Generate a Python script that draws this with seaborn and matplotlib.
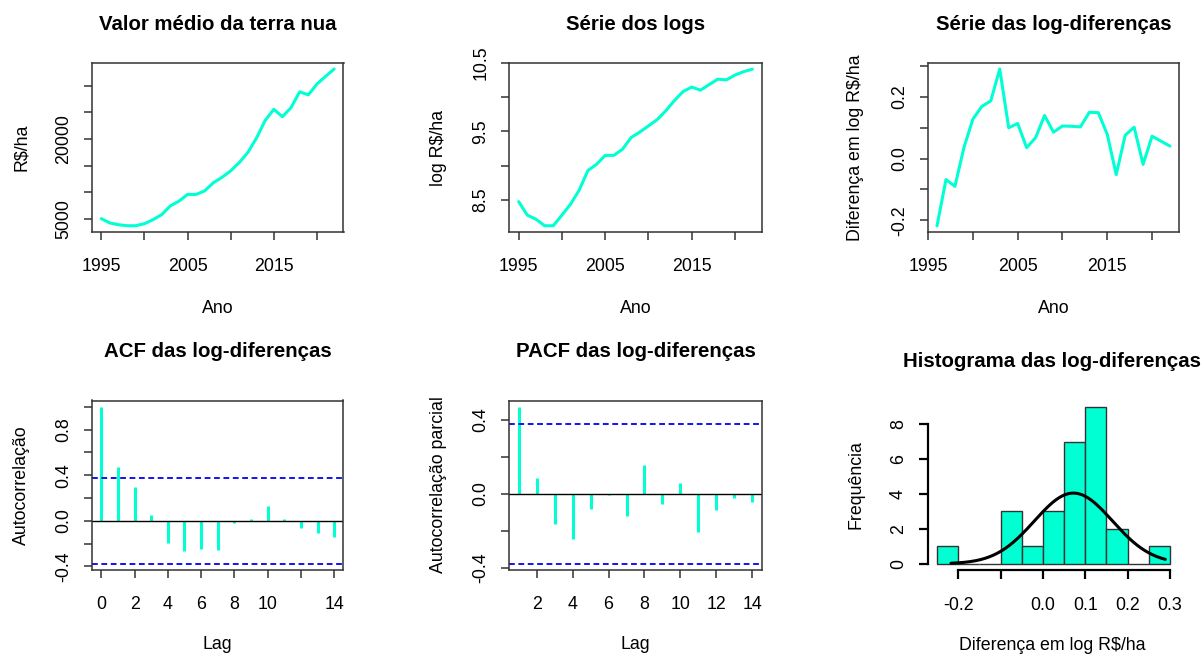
import numpy as np
import matplotlib
matplotlib.use("Agg")
import matplotlib.pyplot as plt
import seaborn as sns

# ---------------- data ----------------
years = list(range(1995, 2023))
valor_medio = [5000, 4180, 3860, 3670, 3670, 4050, 4810, 5760, 7400, 8290,
               9560, 9560, 10250, 11770, 12780, 13990, 15570, 17470, 20190,
               23480, 25570, 24180, 25890, 28860, 28290, 30320, 31770, 33160]
log_valor = [8.476, 8.28, 8.22, 8.125, 8.125, 8.28, 8.44, 8.645, 8.93, 9.02,
             9.15, 9.15, 9.24, 9.41, 9.49, 9.58, 9.67, 9.80, 9.95, 10.08,
             10.145, 10.10, 10.18, 10.26, 10.25, 10.32, 10.37, 10.405]
diff_years = list(range(1996, 2023))
log_diff = [-0.217, -0.068, -0.090, 0.035, 0.127, 0.168, 0.186, 0.289, 0.099,
            0.113, 0.035, 0.067, 0.139, 0.085, 0.105, 0.104, 0.102, 0.149,
            0.148, 0.078, -0.052, 0.075, 0.101, -0.019, 0.072, 0.056, 0.040]
acf_lags = list(range(0, 15))
acf_vals = [1.0, 0.473, 0.298, 0.05, -0.199, -0.263, -0.245, -0.254, -0.018,
            0.012, 0.128, 0.012, -0.067, -0.111, -0.14]
pacf_lags = list(range(1, 15))
pacf_vals = [0.47, 0.0875, -0.1625, -0.243, -0.08, -0.005, -0.121, 0.155,
             -0.052, 0.059, -0.204, -0.086, -0.025, -0.046]
conf_limit = 0.377
hist_edges = [-0.25, -0.20, -0.15, -0.10, -0.05, 0.0, 0.05, 0.10, 0.15, 0.20,
              0.25, 0.30]
curve_mean, curve_sd, curve_peak = 0.072, 0.092, 4.05

year_ticks = [1995, 2000, 2005, 2010, 2015, 2020]
year_labels = ["1995", "", "2005", "", "2015", ""]

# ---------------- style ----------------
sns.set_theme(style="ticks")
plt.rcParams['font.family'] = ['Liberation Sans', 'DejaVu Sans']
plt.rcParams['axes.linewidth'] = 1.1
plt.rcParams['axes.edgecolor'] = '#333333'

C = "#00FFD2"
W, H = 1204, 655
fig = plt.figure(figsize=(W / 100, H / 100), dpi=100)
fig.patch.set_facecolor("white")

TICK = 12.8
TITLE = 14.7


def add_ax(left, top, right, bottom):
    return fig.add_axes([left / W, 1 - bottom / H, (right - left) / W, (bottom - top) / H])


def ftext(x, y, s, **kw):
    fig.text(x / W, 1 - y / H, s, **kw)


def style(ax, xticks, xlabels, yticks, ylabels, xlim, ylim):
    ax.set_xlim(*xlim)
    ax.set_ylim(*ylim)
    ax.set_xticks(xticks)
    ax.set_xticklabels(xlabels)
    ax.set_yticks(yticks)
    ax.set_yticklabels(ylabels, rotation=90, va='center', ha='right')
    ax.tick_params(axis='both', direction='out', length=5.8, width=1.1,
                   color='#333333', labelsize=TICK, labelcolor='black')
    ax.tick_params(axis='x', pad=13)
    ax.tick_params(axis='y', pad=8.5)
    ax.set_xlabel('')
    ax.set_ylabel('')
    ax.grid(False)
    ax.set_facecolor('white')


def ext(vals, f=0.04):
    lo, hi = min(vals), max(vals)
    d = (hi - lo) * f
    return lo - d, hi + d


cols = [(92, 343.5), (509.3, 761.7), (927.7, 1179.3)]
row1 = (62.7, 232)
row2 = (400.5, 570)

# ---- Panel 1
ax1 = add_ax(cols[0][0], row1[0], cols[0][1], row1[1])
sns.lineplot(x=years, y=valor_medio, ax=ax1, color=C, lw=2.2)
style(ax1, year_ticks, year_labels,
      [5000, 10000, 15000, 20000, 25000, 30000], ["5000", "", "", "20000", "", ""],
      ext(years), ext(valor_medio))

# ---- Panel 2
ax2 = add_ax(cols[1][0], row1[0], cols[1][1], row1[1])
sns.lineplot(x=years, y=log_valor, ax=ax2, color=C, lw=2.2)
style(ax2, year_ticks, year_labels,
      [8.5, 9.0, 9.5, 10.0, 10.5], ["8.5", "", "9.5", "", "10.5"],
      ext(years), ext(log_valor))

# ---- Panel 3
ax3 = add_ax(cols[2][0], row1[0], cols[2][1], row1[1])
sns.lineplot(x=diff_years, y=log_diff, ax=ax3, color=C, lw=2.2)
style(ax3, year_ticks, year_labels,
      [-0.2, -0.1, 0.0, 0.1, 0.2, 0.3], ["-0.2", "", "0.0", "", "0.2", ""],
      ext(diff_years), ext(log_diff))

# ---- Panel 4 (ACF)
ax4 = add_ax(cols[0][0], row2[0], cols[0][1], row2[1])
ax4.vlines(acf_lags, 0, acf_vals, color=C, lw=2.2)
ax4.axhline(0, color='black', lw=1.0)
for s in (conf_limit, -conf_limit):
    ax4.axhline(s, color='#0000EE', lw=1.3, linestyle=(0, (3.2, 2.0)))
style(ax4, [0, 2, 4, 6, 8, 10, 12, 14], ["0", "2", "4", "6", "8", "10", "", "14"],
      [-0.4, -0.2, 0.0, 0.2, 0.4, 0.6, 0.8, 1.0], ["-0.4", "", "0.0", "", "0.4", "", "0.8", ""],
      ext(acf_lags), ext(acf_vals + [conf_limit, -conf_limit]))

# ---- Panel 5 (PACF)
ax5 = add_ax(cols[1][0], row2[0], cols[1][1], row2[1])
ax5.vlines(pacf_lags, 0, pacf_vals, color=C, lw=2.2)
ax5.axhline(0, color='black', lw=1.0)
for s in (conf_limit, -conf_limit):
    ax5.axhline(s, color='#0000EE', lw=1.3, linestyle=(0, (3.2, 2.0)))
style(ax5, [2, 4, 6, 8, 10, 12, 14], ["2", "4", "6", "8", "10", "12", "14"],
      [-0.4, -0.2, 0.0, 0.2, 0.4], ["-0.4", "", "0.0", "", "0.4"],
      ext(pacf_lags), ext(pacf_vals + [conf_limit, -conf_limit]))

# ---- Panel 6 (histogram)
ax6 = add_ax(cols[2][0], row2[0], cols[2][1], row2[1])
sns.histplot(x=log_diff, bins=hist_edges, ax=ax6, color=C, edgecolor='#333333',
             linewidth=1.0, alpha=1.0, stat='count')
xs = np.linspace(min(log_diff), max(log_diff), 200)
ys = curve_peak * np.exp(-0.5 * ((xs - curve_mean) / curve_sd) ** 2)
sns.lineplot(x=xs, y=ys, ax=ax6, color='black', lw=2.2)
counts, _ = np.histogram(log_diff, bins=hist_edges)
style(ax6, [-0.2, -0.1, 0.0, 0.1, 0.2, 0.3], ["-0.2", "", "0.0", "0.1", "0.2", "0.3"],
      [0, 2, 4, 6, 8], ["0", "2", "4", "6", "8"],
      ext(hist_edges), ext([0] + list(counts)))
ax6.spines['top'].set_visible(False)
ax6.spines['right'].set_visible(False)
ax6.spines['left'].set_bounds(0, 8)
ax6.spines['bottom'].set_bounds(-0.2, 0.3)
ax6.spines['left'].set_linewidth(1.6)
ax6.spines['bottom'].set_linewidth(1.6)
ax6.spines['left'].set_color('black')
ax6.spines['bottom'].set_color('black')
ax6.tick_params(length=6.5, width=1.6, color='black')

# ---------------- titles & labels ----------------
tkw = dict(ha='center', va='baseline', fontsize=TITLE, fontweight='bold', color='black')
ftext(217.7, 30, "Valor médio da terra nua", **tkw)
ftext(635.5, 30, "Série dos logs", **tkw)
ftext(1053.5, 30, "Série das log-diferenças", **tkw)
ftext(217.7, 357.3, "ACF das log-diferenças", **tkw)
ftext(635.5, 357.3, "PACF das log-diferenças", **tkw)
ftext(1052, 366.7, "Histograma das log-diferenças", **tkw)

xkw = dict(ha='center', va='baseline', fontsize=TICK, color='black')
ftext(217.7, 312.5, "Ano", **xkw)
ftext(635.5, 312.5, "Ano", **xkw)
ftext(1053.5, 312.5, "Ano", **xkw)
ftext(217.7, 649, "Lag", **xkw)
ftext(635.5, 649, "Lag", **xkw)
ftext(1052.5, 650, "Diferença em log R$/ha", **xkw)

ykw = dict(ha='center', va='baseline', fontsize=TICK, color='black', rotation=90,
           rotation_mode='anchor')
ftext(26, 147.5, "R$/ha", **ykw)
ftext(443, 147.5, "log R$/ha", **ykw)
ftext(860, 147.5, "Diferença em log R$/ha", **ykw)
ftext(26, 485, "Autocorrelação", **ykw)
ftext(443, 485, "Autocorrelação parcial", **ykw)
ftext(860, 485, "Frequência", **ykw)

fig.savefig("out.png", dpi=100, facecolor="white")
